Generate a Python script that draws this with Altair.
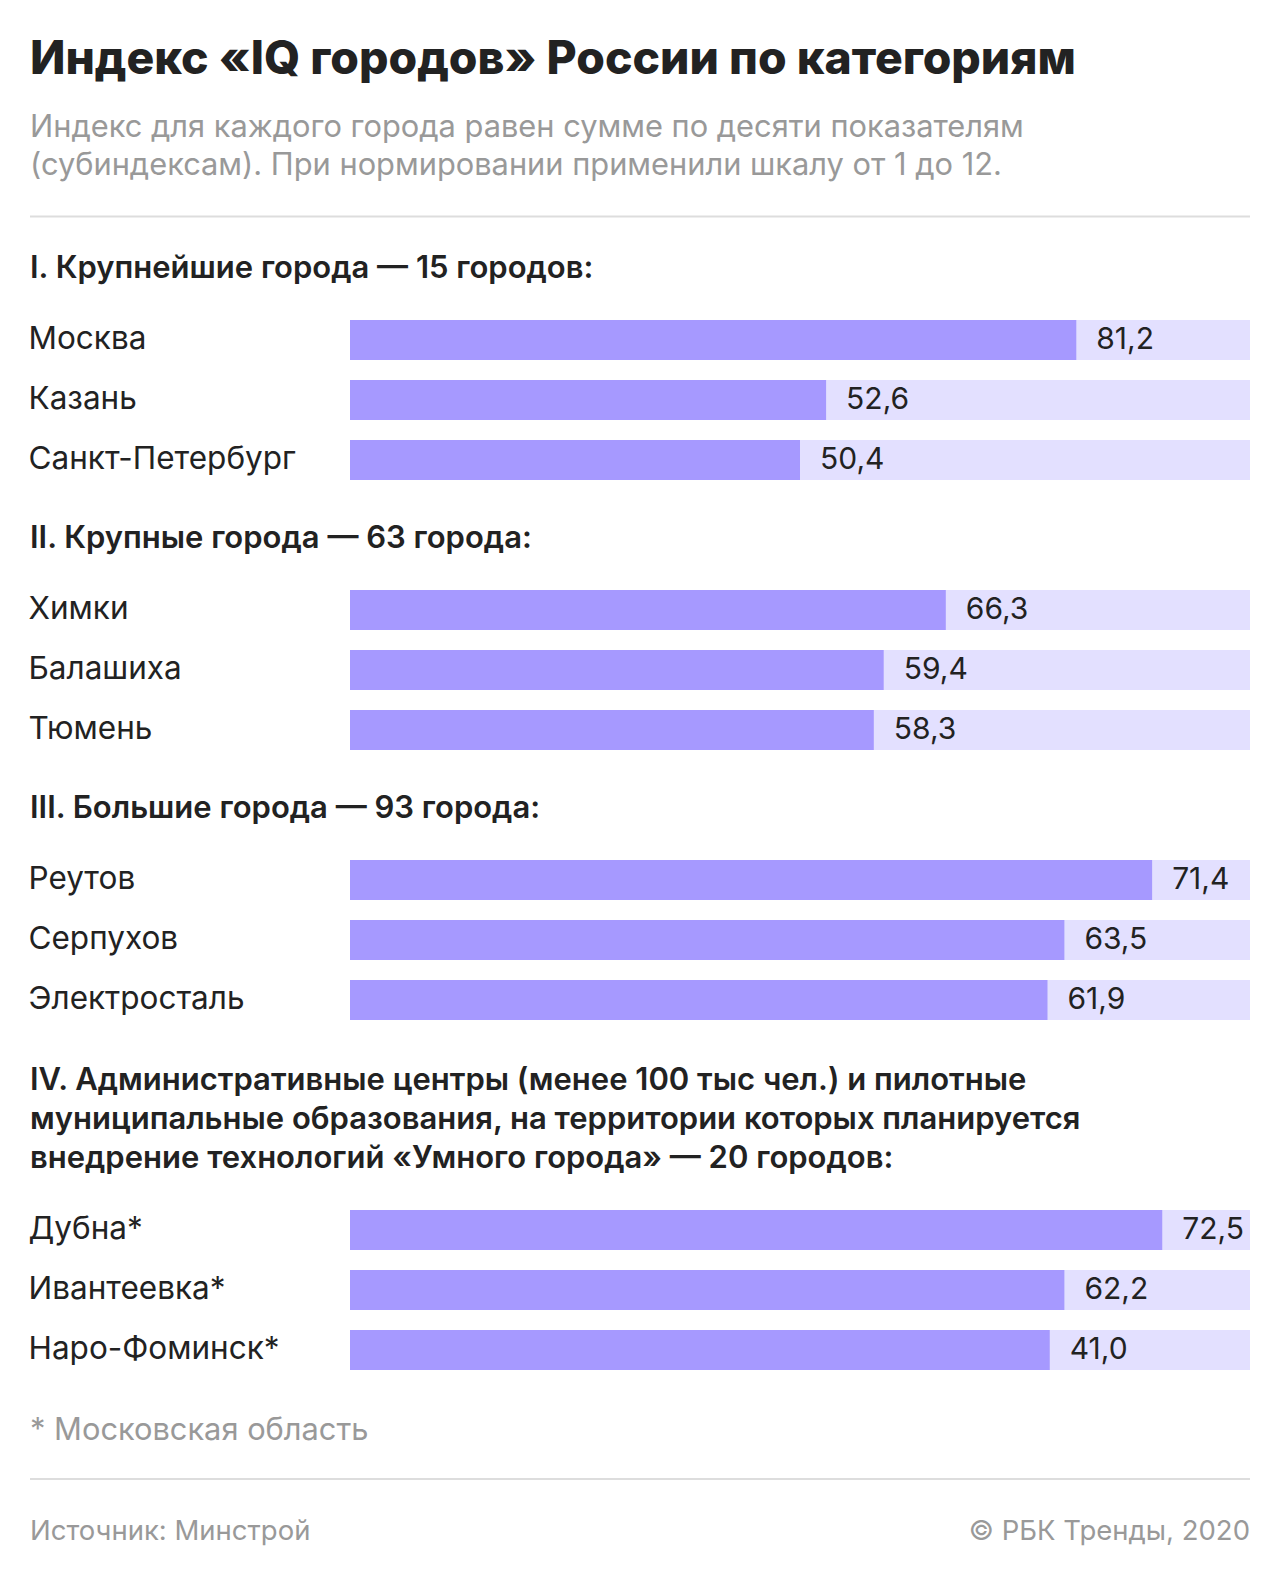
import altair as alt
import pandas as pd

FONT = "Inter"

TITLE = "Индекс «IQ городов» России по категориям"
SUBTITLE = [
    "Индекс для каждого города равен сумме по десяти показателям",
    "(субиндексам). При нормировании применили шкалу от 1 до 12.",
]
GROUP_HEADERS = [
    ["I. Крупнейшие города — 15 городов:"],
    ["II. Крупные города — 63 города:"],
    ["III. Большие города — 93 города:"],
    [
        "IV. Административные центры (менее 100 тыс чел.) и пилотные",
        "муниципальные образования, на территории которых планируется",
        "внедрение технологий «Умного города» — 20 городов:",
    ],
]
CITIES = [
    ["Москва", "Казань", "Санкт-Петербург"],
    ["Химки", "Балашиха", "Тюмень"],
    ["Реутов", "Серпухов", "Электросталь"],
    ["Дубна*", "Ивантеевка*", "Наро-Фоминск*"],
]
# printed index values
INDEX_VALUES = [
    [81.2, 52.6, 50.4],
    [66.3, 59.4, 58.3],
    [71.4, 63.5, 61.9],
    [72.5, 62.2, 41.0],
]
# bar lengths as drawn in the picture (same units as the panel's scale)
BAR_LENGTHS = [
    [80.7, 52.9, 50.0],
    [66.2, 59.3, 58.2],
    [71.3, 63.5, 62.0],
    [72.2, 63.5, 62.2],
]
SCALE_MAX = [100, 100, 80, 80]
FOOTNOTE = "* Московская область"
SOURCE = "Источник: Минстрой"
CREDIT = "© РБК Тренды, 2020"

BAR_COLOR = "#A699FF"
TRACK_COLOR = "#E3E0FF"
TEXT_COLOR = "#222222"
GRAY = "#999999"
RULE_COLOR = "#DDDDDD"

W = 900
LEFT = -320


def text_layer(lines, y, size, color=TEXT_COLOR, weight="normal", align="left",
               x=LEFT, lh=None):
    df = pd.DataFrame({"t": ["\n".join(lines)]})
    props = dict(align=align, baseline="alphabetic", font=FONT, fontSize=size,
                 color=color, fontWeight=weight, lineBreak="\n")
    if lh is not None:
        props["lineHeight"] = lh
    return alt.Chart(df).mark_text(**props).encode(
        text="t:N", x=alt.value(x), y=alt.value(y)
    )


def rule_layer(y):
    df = pd.DataFrame({"r": [0]})
    return alt.Chart(df).mark_rule(color=RULE_COLOR, strokeWidth=2).encode(
        x=alt.value(LEFT), x2=alt.value(W), y=alt.value(y)
    )


def header_layer(i, y):
    return text_layer(GROUP_HEADERS[i], y, 31, weight=600, lh=39)


def group_panel(i):
    df = pd.DataFrame({
        "city": CITIES[i],
        "value": INDEX_VALUES[i],
        "bar": BAR_LENGTHS[i],
    })
    base = alt.Chart(df).transform_calculate(
        label="replace(format(datum.value, '.1f'), '.', ',')",
        track=str(SCALE_MAX[i]),
    )
    xs = alt.Scale(domain=[0, SCALE_MAX[i]], nice=False, zero=True)
    y = alt.Y(
        "city:N", sort=CITIES[i],
        scale=alt.Scale(paddingInner=1 / 3, paddingOuter=0),
        axis=alt.Axis(title=None, domain=False, ticks=False, tickSize=0,
                      labelAlign="left", labelBaseline="middle", labelPadding=322,
                      labelFont=FONT, labelFontSize=31.5, labelColor=TEXT_COLOR,
                      labelLimit=0),
    )
    track = base.mark_bar(color=TRACK_COLOR).encode(
        y=y, x=alt.X("track:Q", scale=xs, axis=None)
    )
    bar = base.mark_bar(color=BAR_COLOR).encode(
        y=y, x=alt.X("bar:Q", scale=xs, axis=None)
    )
    txt = base.mark_text(align="left", baseline="middle", dx=20, font=FONT,
                         fontSize=30, color=TEXT_COLOR).encode(
        y=y, x=alt.X("bar:Q", scale=xs, axis=None), text="label:N"
    )
    return alt.layer(track, bar, txt).properties(width=W, height=160)


top = alt.layer(
    text_layer([TITLE], 66, 46.3, weight=800),
    text_layer(SUBTITLE, 129, 30.8, color=GRAY, lh=38),
    rule_layer(208.5),
    header_layer(0, 270),
).properties(width=W, height=312)

gap1 = alt.layer(header_layer(1, 68)).properties(width=W, height=110)
gap2 = alt.layer(header_layer(2, 68)).properties(width=W, height=110)
gap3 = alt.layer(header_layer(3, 70)).properties(width=W, height=190)

bottom = alt.layer(
    text_layer([FOOTNOTE], 70, 30.8, color=GRAY),
    rule_layer(109),
    text_layer([SOURCE], 170, 27.5, color=GRAY),
    text_layer([CREDIT], 170, 27.5, color=GRAY, align="right", x=W),
).properties(width=W, height=200)

chart = alt.vconcat(
    top, group_panel(0), gap1, group_panel(1), gap2, group_panel(2),
    gap3, group_panel(3), bottom,
    spacing=0, bounds="flush",
).configure_view(stroke=None).properties(
    padding={"left": 20, "top": 0, "right": 10, "bottom": 0},
    background="white",
)

chart.save("out.html", embed_options={"renderer": "svg", "actions": False})
